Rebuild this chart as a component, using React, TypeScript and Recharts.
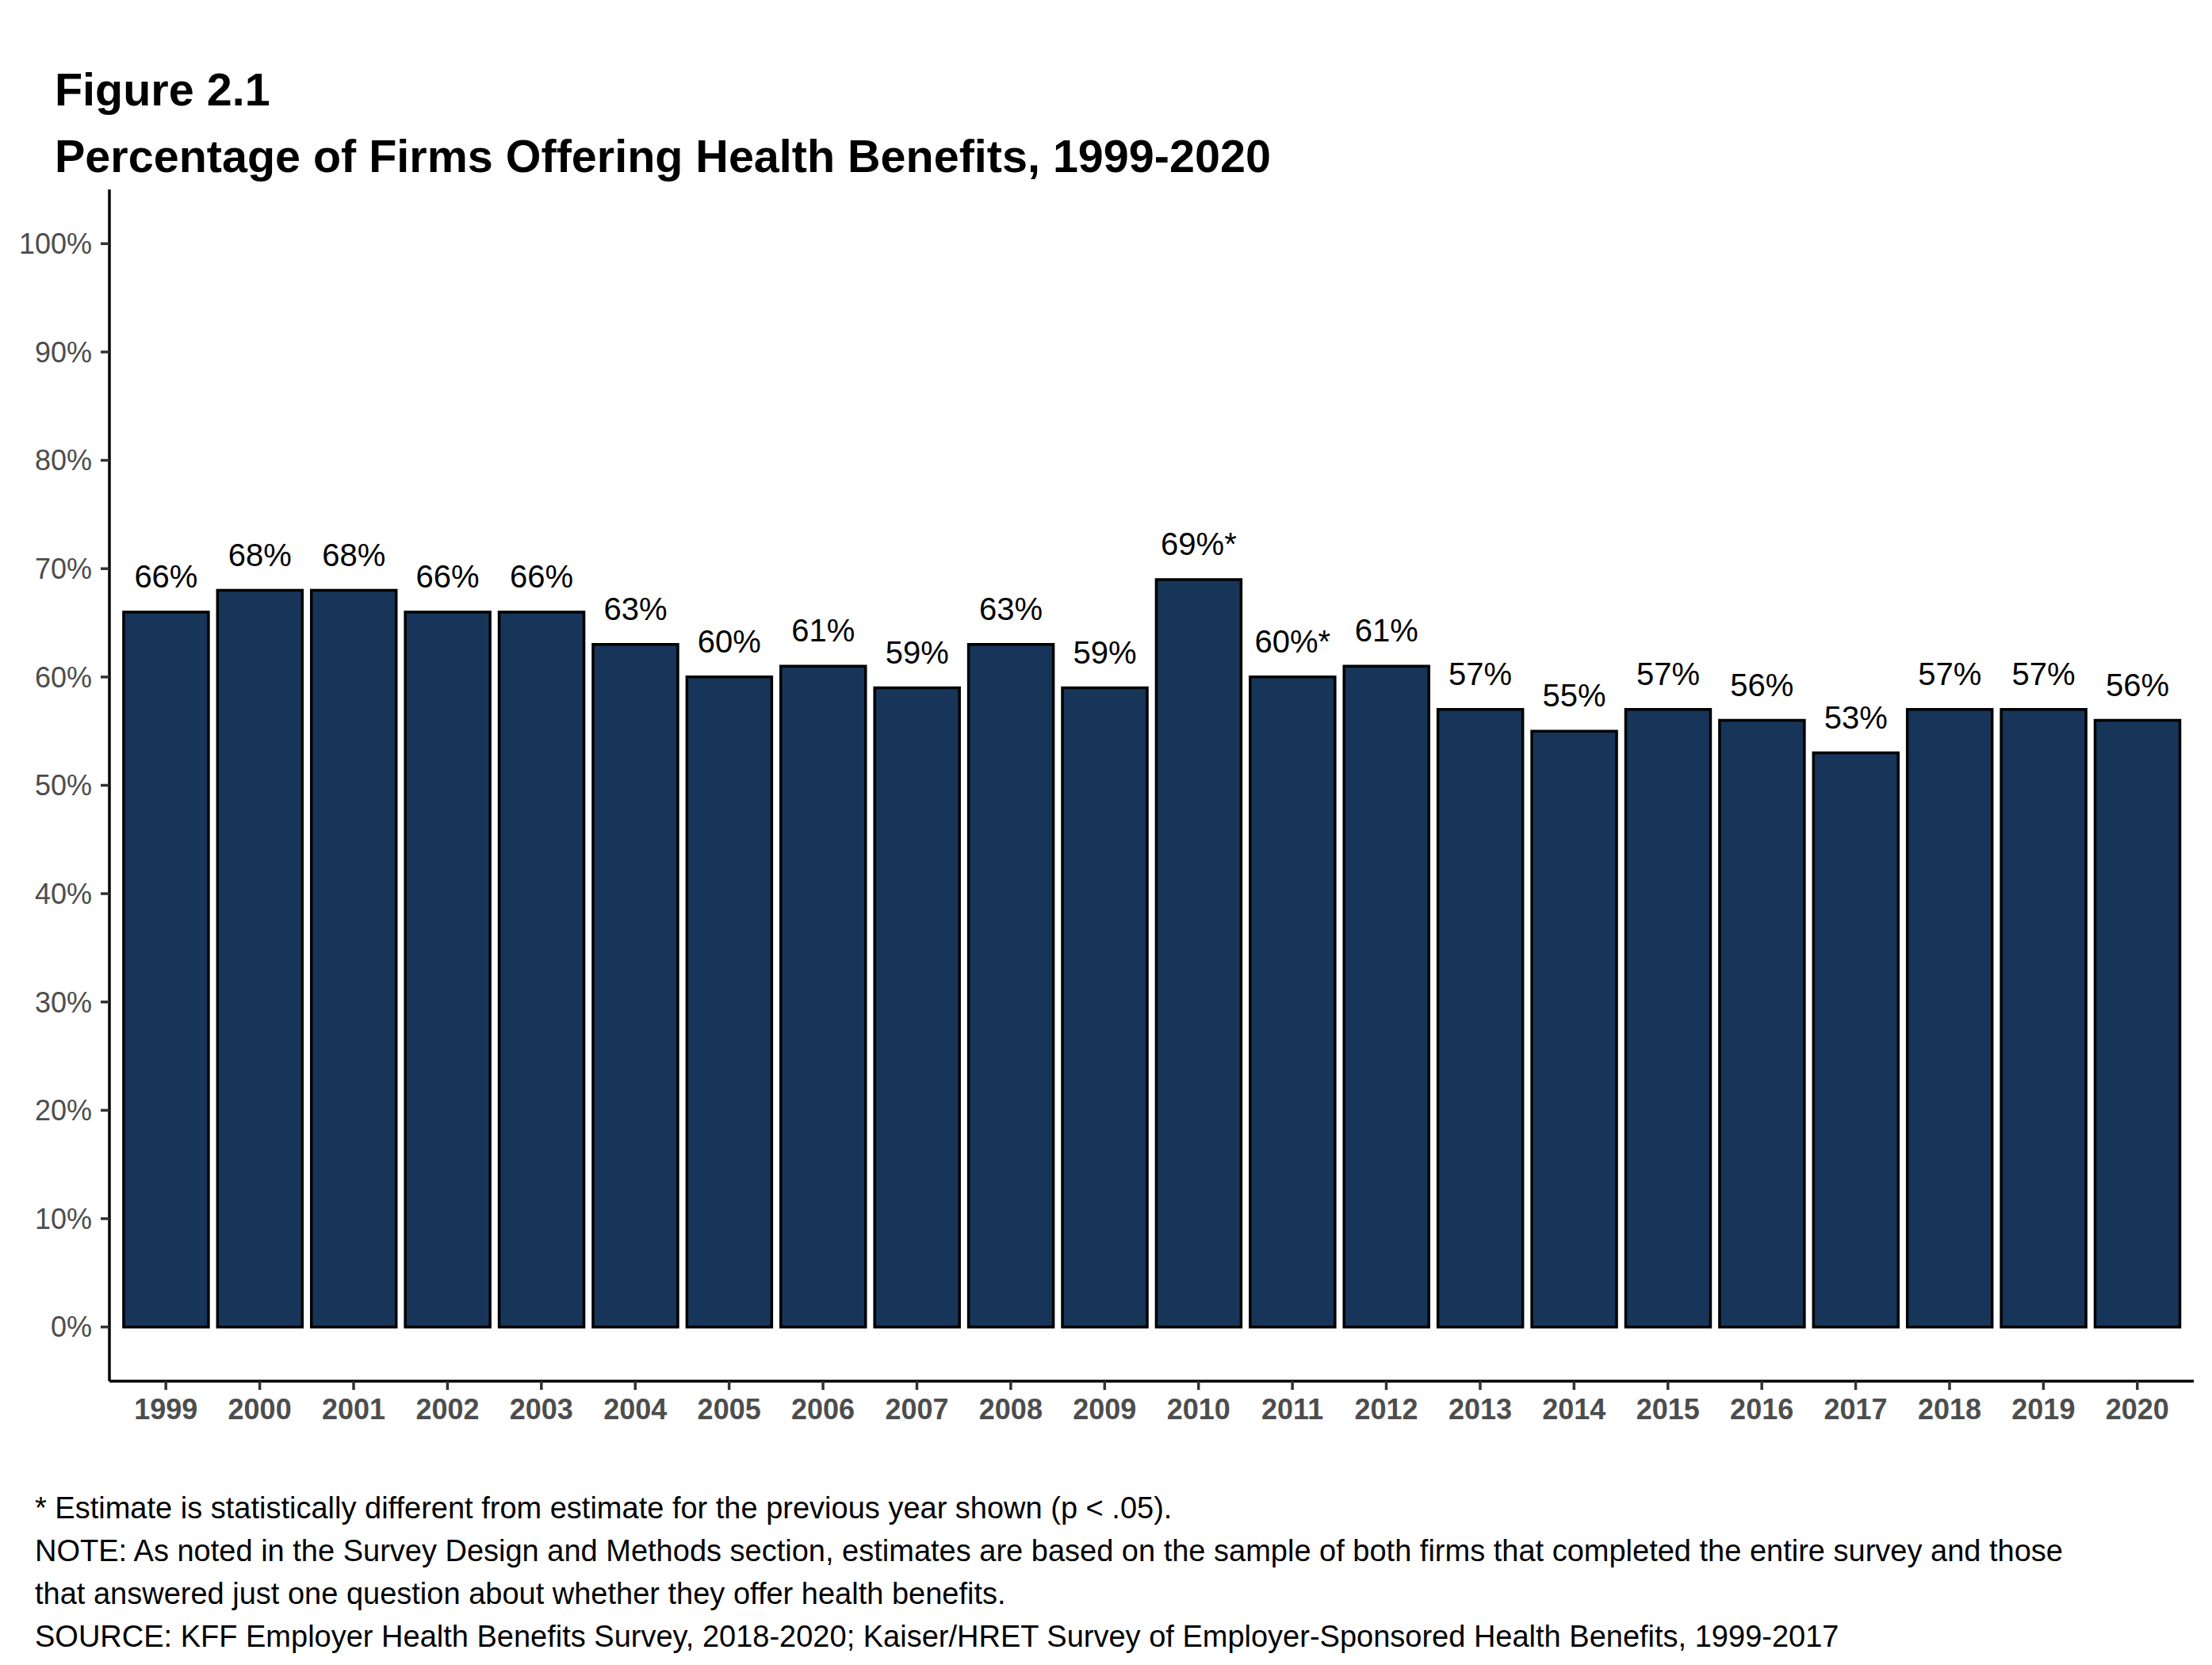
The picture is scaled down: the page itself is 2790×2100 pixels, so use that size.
import React from 'react';
import { BarChart, Bar, XAxis, YAxis, LabelList } from 'recharts';

const years = [
  '1999', '2000', '2001', '2002', '2003', '2004', '2005', '2006', '2007', '2008', '2009',
  '2010', '2011', '2012', '2013', '2014', '2015', '2016', '2017', '2018', '2019', '2020',
];
const offering = [66, 68, 68, 66, 66, 63, 60, 61, 59, 63, 59, 69, 60, 61, 57, 55, 57, 56, 53, 57, 57, 56];
// years where the estimate differs from the previous year (p < .05)
const significant = ['2010', '2011'];
const yTicks = [0, 10, 20, 30, 40, 50, 60, 70, 80, 90, 100];

const figureLabel = 'Figure 2.1';
const title = 'Percentage of Firms Offering Health Benefits, 1999-2020';
const notes = [
  '* Estimate is statistically different from estimate for the previous year shown (p < .05).',
  'NOTE: As noted in the Survey Design and Methods section, estimates are based on the sample of both firms that completed the entire survey and those',
  'that answered just one question about whether they offer health benefits.',
  'SOURCE: KFF Employer Health Benefits Survey, 2018-2020; Kaiser/HRET Survey of Employer-Sponsored Health Benefits, 1999-2017',
];

const data = years.map((year, i) => ({
  year,
  value: offering[i],
  label: `${offering[i]}%${significant.includes(year) ? '*' : ''}`,
}));

const FONT = '"Liberation Sans", Arial, sans-serif';

const BarLabel = (props: any) => {
  const { x, y, width, value } = props;
  return (
    <text
      x={Number(x) + Number(width) / 2}
      y={Number(y) - 31}
      textAnchor="middle"
      fontSize={40}
      fontFamily={FONT}
      fill="#000000"
    >
      {value}
    </text>
  );
};

export default function App() {
  return (
    <div
      style={{
        position: 'absolute',
        left: 0,
        top: 0,
        width: 2790,
        height: 2100,
        background: '#ffffff',
        fontFamily: FONT,
      }}
    >
      <BarChart
        width={2790}
        height={2100}
        data={data}
        margin={{ top: 239, right: 23, left: 0, bottom: 298 }}
        barCategoryGap="5%"
      >
        <XAxis
          dataKey="year"
          height={60}
          padding={{ left: 12, right: 12 }}
          axisLine={{ stroke: '#000000', strokeWidth: 3.5 }}
          tickLine={{ stroke: '#333333', strokeWidth: 3.5 }}
          tickSize={11}
          tickMargin={11}
          interval={0}
          tick={{ fontSize: 36, fontWeight: 700, fill: '#4d4d4d', fontFamily: FONT }}
        />
        <YAxis
          width={138}
          domain={[-5, 105]}
          ticks={yTicks}
          allowDataOverflow
          tickFormatter={(v: number) => `${v}%`}
          axisLine={{ stroke: '#000000', strokeWidth: 3.5 }}
          tickLine={{ stroke: '#333333', strokeWidth: 3.5 }}
          tickSize={11}
          tickMargin={11}
          tick={{ fontSize: 36, fill: '#4d4d4d', fontFamily: FONT }}
        />
        <Bar
          dataKey="value"
          fill="#163559"
          stroke="#000000"
          strokeWidth={3.5}
          isAnimationActive={false}
        >
          <LabelList dataKey="label" content={<BarLabel />} />
        </Bar>
      </BarChart>
      <svg
        width={2790}
        height={2100}
        style={{ position: 'absolute', left: 0, top: 0, pointerEvents: 'none' }}
      >
        <text x={69} y={133} fontSize={57.5} fontWeight={700} fontFamily={FONT} fill="#000000">
          {figureLabel}
        </text>
        <text x={69} y={217} fontSize={57.5} fontWeight={700} fontFamily={FONT} fill="#000000">
          {title}
        </text>
        {notes.map((line, i) => (
          <text key={i} x={44} y={1915 + i * 54} fontSize={38} fontFamily={FONT} fill="#000000">
            {line}
          </text>
        ))}
      </svg>
    </div>
  );
}
